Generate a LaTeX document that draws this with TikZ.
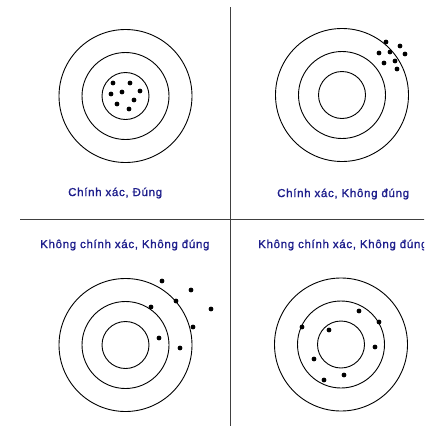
\documentclass[tikz,border=0pt]{standalone}
\usepackage{fontspec}
\newfontfamily\lblfont[LetterSpace=6,FakeBold=1.2]{Liberation Sans}
\definecolor{lblblue}{RGB}{30,30,140}
\definecolor{sepgray}{RGB}{64,64,64}
\tikzset{
  ring/.style={draw=black, line width=0.9pt, circle, inner sep=0pt, minimum size=#1},
  shot/.style={fill=black, circle, inner sep=0pt, minimum size=4.8pt},
  lbl/.style={text=lblblue, font=\lblfont\fontsize{11.5}{13}\selectfont, inner sep=0pt},
  sepline/.style={draw=sepgray, line width=1.4pt}
}
\newcommand{\target}[3]{%
  \node[ring=133pt] (#1o) at (#2,#3) {};
  \node[ring=87pt] (#1m) at (#2,#3) {};
  \node[ring=47pt] (#1i) at (#2,#3) {};
}
\begin{document}
\begin{tikzpicture}[x=1pt,y=-1pt]
\useasboundingbox (0,0) rectangle (424,426);
\clip (0,0) rectangle (424,426);
\fill[white] (0,0) rectangle (424,426);
% separators
\coordinate (vt) at (230.5,7);
\coordinate (vb) at (230.5,430);
\coordinate (hl) at (20,219.5);
\coordinate (hr) at (430,219.5);
\draw[sepline] (vt) -- (vb);
\draw[sepline] (hl) -- (hr);
% targets
\target{a}{125.5}{96}
\target{b}{342}{95}
\target{c}{125.5}{345}
\target{d}{341}{344.5}
% shots: top-left
\foreach \x/\y [count=\i] in {113/83,130/83,111/94,122/92,140/91,117/104,134/100,129/109}
  \node[shot] (sa\i) at (\x,\y) {};
% shots: top-right
\foreach \x/\y [count=\i] in {386/42,400/46,379/53,390/52,405/54,384/63,395/61,397/69}
  \node[shot] (sb\i) at (\x,\y) {};
% shots: bottom-left
\foreach \x/\y [count=\i] in {162/281,191/290,176/301,151/307,211/309,193/327,159/338,180/348}
  \node[shot] (sc\i) at (\x,\y) {};
% shots: bottom-right
\foreach \x/\y [count=\i] in {359/311,379/322,302/327,329/330,375/347,314/359,344/375,324/380}
  \node[shot] (sd\i) at (\x,\y) {};
% labels
\node[lbl, anchor=west] (la) at (68,193) {Chính xác, Đúng};
\node[lbl, anchor=west] (lb) at (277,194) {Chính xác, Không đúng};
\node[lbl, anchor=west] (lc) at (40,245) {Không chính xác, Không đúng};
\node[lbl, anchor=west] (ld) at (258,245) {Không chính xác, Không đúng};
\end{tikzpicture}
\end{document}
